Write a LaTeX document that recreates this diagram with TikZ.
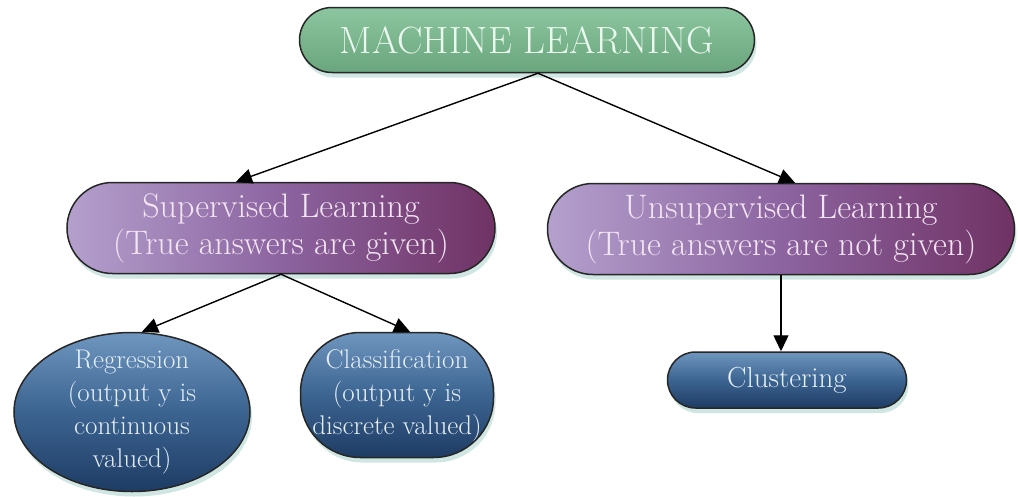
\documentclass[tikz,border=0pt]{standalone}
\usetikzlibrary{shapes.misc,shapes.geometric,shadows,arrows.meta,calc}
\definecolor{greenL}{RGB}{140,198,160}
\definecolor{greenD}{RGB}{105,165,125}
\definecolor{purL}{RGB}{180,160,205}
\definecolor{purM}{RGB}{140,100,160}
\definecolor{purD}{RGB}{112,50,100}
\definecolor{bluL}{RGB}{110,150,190}
\definecolor{bluM}{RGB}{60,100,145}
\definecolor{bluD}{RGB}{30,60,100}
\definecolor{txtG}{RGB}{235,248,238}
\definecolor{txtP}{RGB}{242,228,242}
\definecolor{txtB}{RGB}{228,238,248}
\definecolor{glow}{RGB}{150,200,190}
\begin{document}
\begin{tikzpicture}[x=1pt,y=-1pt,
  box/.style={draw=black!85,line width=1.5pt,align=center,inner sep=0pt,
    drop shadow={shadow xshift=2pt,shadow yshift=-5pt,fill=glow,opacity=0.45}},
  mlbox/.style={box,rounded rectangle,minimum width=455pt,minimum height=65pt,
    top color=greenL,bottom color=greenD,text=txtG,font=\fontsize{38}{42}\selectfont},
  purbox/.style={box,rounded rectangle,minimum height=91pt,
    left color=purL,right color=purD,middle color=purM,text=txtP,font=\fontsize{34}{37}\selectfont},
  bluebox/.style={box,top color=bluL,bottom color=bluD,middle color=bluM,text=txtB,
    font=\fontsize{27}{33}\selectfont},
  bluetext/.style={align=center,inner sep=0pt,text=txtB,font=\fontsize{27}{33}\selectfont},
  arr/.style={line width=1.4pt,-{Triangle[length=16pt,width=15pt]}}
]
\useasboundingbox (0,0) rectangle (1018,496);
\node[mlbox] (ml) at (527,40) {MACHINE LEARNING};
\node[purbox,minimum width=428pt] (sup) at (281,228) {Supervised Learning\\(True answers are given)};
\node[purbox,minimum width=467pt] (uns) at (781,229) {Unsupervised Learning\\(True answers are not given)};
\node[bluebox,ellipse,minimum width=236pt,minimum height=159pt] (reg) at (132,412) {};
\node[bluetext] (regtxt) at (reg.center) {Regression\\(output y is\\continuous\\valued)};
\node[bluebox,rectangle,rounded corners=60pt,minimum width=193pt,minimum height=125pt] (cls) at (397,395) {Classification\\(output y is\\discrete valued)};
\node[bluebox,rounded rectangle,minimum width=239pt,minimum height=56pt,font=\fontsize{29}{33}\selectfont] (clu) at (787,380) {Clustering};
\coordinate (mlo) at ($(ml.south)+(11,0)$);
\draw[arr] (mlo) -- ($(sup.north)+(-45,0)$);
\draw[arr] (mlo) -- ($(uns.north)+(14,0)$);
\coordinate (supo) at (sup.south);
\draw[arr] (supo) -- ($(reg.north)+(10,0)$);
\draw[arr] (supo) -- ($(cls.north)+(13,0)$);
\draw[arr] (uns.south) -- (clu.north -| uns.south);
\end{tikzpicture}
\end{document}
